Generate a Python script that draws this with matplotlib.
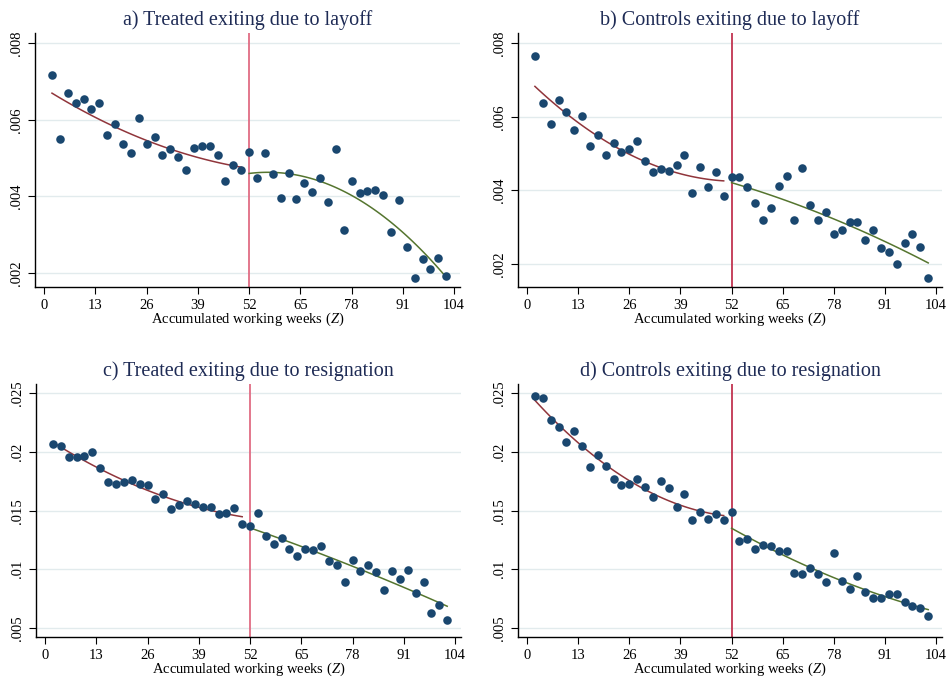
import matplotlib.pyplot as plt
import numpy as np
import matplotlib

matplotlib.rcParams['font.family'] = ['Liberation Serif', 'DejaVu Serif']
matplotlib.rcParams['mathtext.fontset'] = 'custom'
matplotlib.rcParams['mathtext.it'] = 'Liberation Serif:italic'
matplotlib.rcParams['mathtext.rm'] = 'Liberation Serif'

# accumulated working weeks (bin centres)
weeks = list(range(2, 104, 2))
cutoff = 52

y_treat_layoff = [
    0.00716, 0.00549, 0.00670, 0.00645, 0.00654, 0.00628, 0.00643, 0.00560, 0.00589, 0.00538,
    0.00513, 0.00606, 0.00536, 0.00556, 0.00507, 0.00524, 0.00504, 0.00469, 0.00527, 0.00531,
    0.00532, 0.00508, 0.00439, 0.00483, 0.00469, 0.00516, 0.00449, 0.00513, 0.00459, 0.00396,
    0.00461, 0.00394, 0.00435, 0.00411, 0.00449, 0.00385, 0.00525, 0.00313, 0.00441, 0.00408,
    0.00415, 0.00417, 0.00403, 0.00308, 0.00391, 0.00267, 0.00187, 0.00237, 0.00211, 0.00239,
    0.00192]
y_ctrl_layoff = [
    0.00766, 0.00637, 0.00580, 0.00646, 0.00612, 0.00565, 0.00602, 0.00520, 0.00550, 0.00496,
    0.00530, 0.00503, 0.00513, 0.00534, 0.00480, 0.00451, 0.00459, 0.00452, 0.00469, 0.00495,
    0.00393, 0.00463, 0.00410, 0.00451, 0.00384, 0.00437, 0.00437, 0.00409, 0.00366, 0.00319,
    0.00353, 0.00412, 0.00438, 0.00319, 0.00461, 0.00361, 0.00318, 0.00342, 0.00280, 0.00291,
    0.00314, 0.00313, 0.00266, 0.00293, 0.00242, 0.00233, 0.00199, 0.00258, 0.00282, 0.00245,
    0.00162]
y_treat_resign = [
    0.02065, 0.02054, 0.01955, 0.01960, 0.01969, 0.01997, 0.01861, 0.01742, 0.01730, 0.01747,
    0.01759, 0.01730, 0.01722, 0.01597, 0.01639, 0.01517, 0.01551, 0.01582, 0.01554, 0.01534,
    0.01534, 0.01474, 0.01477, 0.01520, 0.01384, 0.01372, 0.01483, 0.01287, 0.01219, 0.01267,
    0.01173, 0.01114, 0.01171, 0.01162, 0.01196, 0.01074, 0.01034, 0.00895, 0.01080, 0.00983,
    0.01034, 0.00974, 0.00824, 0.00986, 0.00920, 0.00992, 0.00801, 0.00892, 0.00631, 0.00696,
    0.00568]
y_ctrl_resign = [
    0.02474, 0.02457, 0.02276, 0.02213, 0.02085, 0.02179, 0.02054, 0.01869, 0.01974, 0.01878,
    0.01773, 0.01719, 0.01730, 0.01770, 0.01705, 0.01619, 0.01756, 0.01693, 0.01534, 0.01645,
    0.01420, 0.01489, 0.01432, 0.01474, 0.01420, 0.01489, 0.01239, 0.01259, 0.01176, 0.01210,
    0.01202, 0.01156, 0.01153, 0.00969, 0.00957, 0.01014, 0.00957, 0.00895, 0.01142, 0.00903,
    0.00830, 0.00943, 0.00807, 0.00759, 0.00753, 0.00790, 0.00787, 0.00719, 0.00690, 0.00673,
    0.00602]

titles = ["a) Treated exiting due to layoff", "b) Controls exiting due to layoff",
          "c) Treated exiting due to resignation", "d) Controls exiting due to resignation"]
series = [y_treat_layoff, y_ctrl_layoff, y_treat_resign, y_ctrl_resign]
yticks_layoff = [0.002, 0.004, 0.006, 0.008]
ylabels_layoff = [".002", ".004", ".006", ".008"]
yticks_resign = [0.005, 0.01, 0.015, 0.02, 0.025]
ylabels_resign = [".005", ".01", ".015", ".02", ".025"]
xticks = [0, 13, 26, 39, 52, 65, 78, 91, 104]

navy = "#1a476f"
maroon = "#90353b"
green = "#55752f"
vline_cols = ["#e06c84", "#c23450", "#e06c84", "#c23450"]

fig = plt.figure(figsize=(9.47, 6.78), dpi=100)
boxes = [[0.037, 0.5767, 0.4488, 0.3746], [0.547, 0.5767, 0.4477, 0.3746],
         [0.038, 0.0605, 0.4488, 0.3732], [0.547, 0.0605, 0.4477, 0.3732]]
ylims = [(0.00163, 0.00827), (0.00137, 0.00828), (0.00423, 0.0258), (0.00423, 0.0258)]

x = np.array(weeks)
for i in range(4):
    ax = fig.add_axes(boxes[i])
    y = np.array(series[i])
    left = x < cutoff
    right = ~left
    ax.set_xlim(-2.3, 105.5)
    ax.set_ylim(*ylims[i])
    if i < 2:
        ax.set_yticks(yticks_layoff)
        ax.set_yticklabels(ylabels_layoff, rotation=90, va='center')
    else:
        ax.set_yticks(yticks_resign)
        ax.set_yticklabels(ylabels_resign, rotation=90, va='center')
    ax.set_xticks(xticks)
    ax.tick_params(labelsize=10.5, length=5, width=0.8, direction='out', colors='black')
    ax.grid(axis='y', color='#e2ebed', linewidth=1.0)
    ax.set_axisbelow(True)
    for s in ['top', 'right']:
        ax.spines[s].set_visible(False)
    ax.spines['left'].set_linewidth(1.0)
    ax.spines['bottom'].set_linewidth(1.0)

    # fitted polynomials on each side of the cutoff
    pl = np.polyfit(x[left], y[left], 2)
    pr = np.polyfit(x[right], y[right], 2)
    xl = np.linspace(x[left].min(), x[left].max(), 100)
    xr = np.linspace(x[right].min(), x[right].max(), 100)
    ax.plot(xl, np.polyval(pl, xl), color=maroon, linewidth=1.1, zorder=3)
    ax.plot(xr, np.polyval(pr, xr), color=green, linewidth=1.1, zorder=3)

    ax.axvline(cutoff, color=vline_cols[i], linewidth=1.3, zorder=2)
    ax.scatter(x, y, s=38, color=navy, zorder=4, linewidths=0)

    ax.set_title(titles[i], fontsize=14.5, color='#1e2b55', pad=6)
    ax.set_xlabel('Accumulated working weeks ($Z$)', fontsize=10.5, labelpad=-1)

plt.savefig("out.png", dpi=100)
